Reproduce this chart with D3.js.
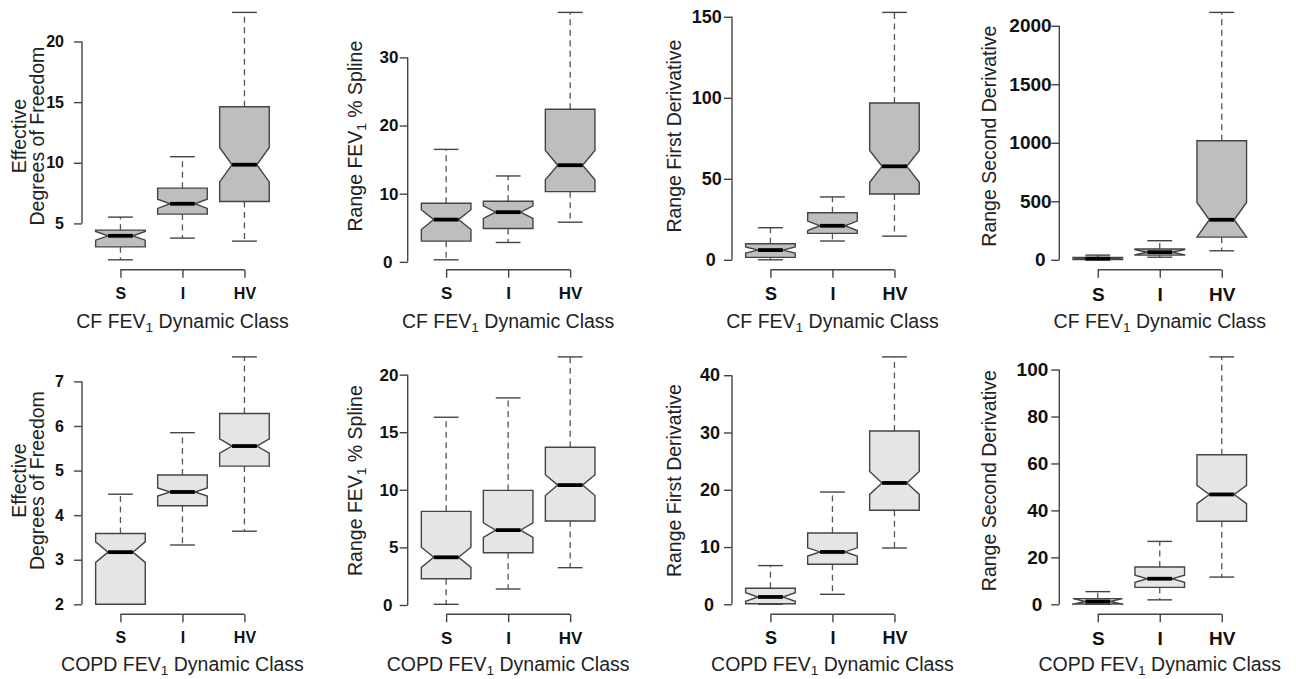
<!DOCTYPE html>
<html><head><meta charset="utf-8">
<script src="https://cdn.jsdelivr.net/npm/d3@7"></script>
<style>
body{margin:0;background:#fff;}
svg{display:block;font-family:"Liberation Sans",Arial,Helvetica,sans-serif;}
</style>
</head><body>
<svg id="chart" width="1296" height="679"></svg>
<script>
// ---- DATA ----
const categories = ["S", "I", "HV"];
// each row per category: [lower whisker, Q1, median, Q3, upper whisker, notch half-width]
const cfEdf      = [[2.0, 3.07, 3.98, 4.45, 5.52, 0.36], [3.79, 5.77, 6.62, 7.91, 10.5, 0.38], [3.54, 6.81, 9.84, 14.62, 22.4, 1.42]];
const cfRange    = [[0.3, 3.04, 6.2, 8.6, 16.5, 1.45], [2.84, 4.9, 7.29, 8.9, 12.6, 0.92], [5.82, 10.3, 14.18, 22.4, 36.6, 2.15]];
const cfFirst    = [[0.0, 1.5, 6.0, 9.9, 19.8, 1.9], [11.6, 16.3, 21.0, 29.0, 38.8, 2.9], [14.6, 40.6, 57.7, 96.8, 152.7, 9.8]];
const cfSecond   = [[0, 2, 10, 20, 40, 6], [22, 40, 65, 92, 163, 22], [77, 194, 342, 1017, 2114, 148]];
const copdEdf    = [[2.0, 2.0, 3.17, 3.59, 4.47, 0.23], [3.33, 4.21, 4.52, 4.9, 5.85, 0.09], [3.64, 5.1, 5.55, 6.28, 7.55, 0.16]];
const copdRange  = [[0.06, 2.28, 4.14, 8.13, 16.3, 0.88], [1.39, 4.54, 6.5, 9.95, 17.98, 0.63], [3.24, 7.29, 10.41, 13.69, 21.54, 0.9]];
const copdFirst  = [[0.0, 0.1, 1.28, 2.8, 6.76, 0.75], [1.75, 6.99, 9.14, 12.45, 19.6, 0.72], [9.83, 16.42, 21.19, 30.27, 43.2, 2.0]];
const copdSecond = [[0.0, 0.1, 1.2, 2.4, 5.4, 1.2], [1.9, 7.2, 10.9, 15.9, 26.8, 1.5], [11.6, 35.4, 46.8, 63.7, 105.4, 3.9]];

const cfEdfTicks      = [5, 10, 15, 20];
const cfRangeTicks    = [0, 10, 20, 30];
const cfFirstTicks    = [0, 50, 100, 150];
const cfSecondTicks   = [0, 500, 1000, 1500, 2000];
const copdEdfTicks    = [2, 3, 4, 5, 6, 7];
const copdRangeTicks  = [0, 5, 10, 15, 20];
const copdFirstTicks  = [0, 10, 20, 30, 40];
const copdSecondTicks = [0, 20, 40, 60, 80, 100];

const yTitles = [["Effective", "Degrees of Freedom"], ["Range FEV{1} % Spline"], ["Range First Derivative"], ["Range Second Derivative"]];
const xTitles = ["CF FEV{1} Dynamic Class", "COPD FEV{1} Dynamic Class"];

// ---- LAYOUT ----
const colLeft = [82, 407.7, 732, 1059.3];
const rowTop = [2.5, 347];
const plotW = 200.9, plotH = 267.2;
const xTitleOff = [58.5, 56.5];
const yTitleBase = [-38.5, -45.7, -51.3, -63.8];
const labelGap = [[18, 9.3, 10.3, 7.7], [18, 9.3, 12, 11]];
const boldSize = [16, 17, 18, 19];
const rowFill = ["#bebebe", "#e5e5e5"];
const lineCol = "#444";

const panels = [
  {data: cfEdf, ticks: cfEdfTicks, row: 0, col: 0},
  {data: cfRange, ticks: cfRangeTicks, row: 0, col: 1},
  {data: cfFirst, ticks: cfFirstTicks, row: 0, col: 2},
  {data: cfSecond, ticks: cfSecondTicks, row: 0, col: 3},
  {data: copdEdf, ticks: copdEdfTicks, row: 1, col: 0},
  {data: copdRange, ticks: copdRangeTicks, row: 1, col: 1},
  {data: copdFirst, ticks: copdFirstTicks, row: 1, col: 2},
  {data: copdSecond, ticks: copdSecondTicks, row: 1, col: 3}
];

const svg = d3.select("#chart");

function addRich(textSel, str, size) {
  const parts = str.split(/(\{[^}]*\})/).filter(s => s);
  let shift = 0;
  parts.forEach(p => {
    if (p.startsWith("{")) {
      textSel.append("tspan").attr("font-size", size * 0.7).attr("dy", size * 0.2).text(p.slice(1, -1));
      shift = size * 0.2;
    } else {
      const t = textSel.append("tspan").text(p);
      if (shift) { t.attr("dy", -shift); shift = 0; }
    }
  });
}

panels.forEach(p => {
  const left = colLeft[p.col], top = rowTop[p.row];
  const fs = boldSize[p.col];
  const g = svg.append("g");
  const x = d3.scaleLinear().domain([0.38, 3.62]).range([left, left + plotW]);
  const xp = d3.scalePoint().domain(categories).range([x(1), x(3)]);
  const lo = d3.min(p.data, d => d[0]), hi = d3.max(p.data, d => d[4]);
  const ext = (hi - lo) * 0.04;
  const y = d3.scaleLinear().domain([lo - ext, hi + ext]).range([top + plotH, top]);
  const bw = x(1.4) - x(1);   // half box width
  const sw = bw / 2;          // half staple width

  p.data.forEach((d, i) => {
    const cx = xp(categories[i]);
    const bg = g.append("g");
    [[d[3], d[4]], [d[1], d[0]]].forEach(([a, b]) => {
      bg.append("line").attr("x1", cx).attr("x2", cx).attr("y1", y(a)).attr("y2", y(b))
        .attr("stroke", "#555").attr("stroke-width", 1.3).attr("stroke-dasharray", "6,4.5");
    });
    [d[0], d[4]].forEach(v => {
      bg.append("line").attr("x1", cx - sw).attr("x2", cx + sw).attr("y1", y(v)).attr("y2", y(v))
        .attr("stroke", lineCol).attr("stroke-width", 1.4);
    });
    const nlo = d[2] - d[5], nhi = d[2] + d[5];
    const pts = [
      [cx - bw, y(d[1])], [cx - bw, y(nlo)], [cx - bw / 2, y(d[2])], [cx - bw, y(nhi)], [cx - bw, y(d[3])],
      [cx + bw, y(d[3])], [cx + bw, y(nhi)], [cx + bw / 2, y(d[2])], [cx + bw, y(nlo)], [cx + bw, y(d[1])]
    ];
    bg.append("path").attr("d", d3.line()(pts) + "Z")
      .attr("fill", rowFill[p.row]).attr("stroke", lineCol).attr("stroke-width", 1.4);
    bg.append("line").attr("x1", cx - bw / 2).attr("x2", cx + bw / 2).attr("y1", y(d[2])).attr("y2", y(d[2]))
      .attr("stroke", "#000").attr("stroke-width", 3.8);
  });

  // y axis
  const gap = labelGap[p.row][p.col];
  const ya = g.append("g").attr("transform", `translate(${left},0)`)
    .call(d3.axisLeft(y).tickValues(p.ticks).tickFormat(d3.format("d")).tickSize(8).tickSizeOuter(0).tickPadding(gap - 8));
  ya.select(".domain").remove();
  ya.append("line").attr("x1", 0).attr("x2", 0)
    .attr("y1", y(p.ticks[0])).attr("y2", y(p.ticks[p.ticks.length - 1]))
    .attr("stroke", lineCol).attr("stroke-width", 1.4);
  ya.selectAll(".tick line").attr("stroke", lineCol).attr("stroke-width", 1.4);
  ya.selectAll(".tick text").attr("font-size", fs).attr("font-weight", "bold").attr("fill", "#111")
    .attr("font-family", "Liberation Sans, Arial, sans-serif")
    .attr("dx", d => d === 0 ? -6 : 0);

  // x axis
  const xa = g.append("g").attr("transform", `translate(0,${top + plotH})`)
    .call(d3.axisBottom(xp).tickSize(8).tickSizeOuter(0).tickPadding(9.5));
  xa.select(".domain").remove();
  xa.append("line").attr("x1", xp(categories[0])).attr("x2", xp(categories[2])).attr("y1", 0).attr("y2", 0)
    .attr("stroke", lineCol).attr("stroke-width", 1.4);
  xa.selectAll(".tick line").attr("stroke", lineCol).attr("stroke-width", 1.4);
  xa.selectAll(".tick text").attr("font-size", fs).attr("font-weight", "bold").attr("fill", "#111")
    .attr("font-family", "Liberation Sans, Arial, sans-serif");

  // x title
  const xt = g.append("text").attr("x", left + plotW / 2).attr("y", top + plotH + xTitleOff[p.row])
    .attr("text-anchor", "middle").attr("font-size", 19.5).attr("fill", "#222");
  addRich(xt, xTitles[p.row], 19.5);

  // y title
  const lines = yTitles[p.col];
  const cy = top + plotH / 2;
  lines.forEach((ln, k) => {
    const bx = left + yTitleBase[p.col] - (lines.length - 1 - k) * 18;
    const t = g.append("text").attr("transform", `translate(${bx},${cy}) rotate(-90)`)
      .attr("text-anchor", "middle").attr("font-size", 19.5).attr("fill", "#222");
    addRich(t, ln, 19.5);
  });
});
</script>
</body></html>
